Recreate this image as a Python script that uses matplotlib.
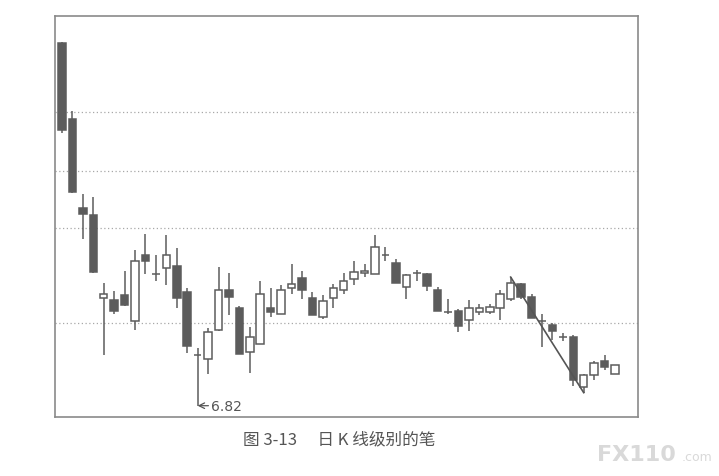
import matplotlib
matplotlib.use("Agg")
import matplotlib.pyplot as plt
import numpy as np

# Daily candles (price units, low of the move = 6.82)
opens = [10.99, 10.12, 9.09, 9.02, 8.06, 8.04, 8.09, 7.80, 8.55, 8.34,
         8.41, 8.43, 8.13, 7.40, 7.36, 7.69, 8.15, 7.94, 7.44, 7.53,
         7.95, 7.87, 8.18, 8.29, 8.06, 7.84, 8.06, 8.15, 8.28, 8.35,
         8.33, 8.55, 8.46, 8.19, 8.35, 8.33, 8.15, 7.90, 7.91, 7.81,
         7.90, 7.90, 7.95, 8.05, 8.22, 8.07, 7.79, 7.75, 7.61, 7.61,
         7.04, 7.17, 7.33, 7.18]
highs = [11.00, 10.21, 9.26, 9.22, 8.23, 8.14, 8.37, 8.61, 8.80, 8.55,
         8.79, 8.63, 8.18, 7.48, 7.71, 8.42, 8.35, 7.97, 7.73, 8.26,
         8.17, 8.21, 8.45, 8.37, 8.13, 8.09, 8.22, 8.35, 8.48, 8.45,
         8.79, 8.65, 8.51, 8.34, 8.38, 8.35, 8.19, 8.05, 7.93, 8.04,
         7.99, 7.99, 8.15, 8.30, 8.23, 8.11, 7.88, 7.77, 7.66, 7.63,
         7.19, 7.34, 7.40, 7.29]
lows = [9.96, 9.27, 8.74, 8.35, 7.40, 7.87, 7.97, 7.69, 8.33, 8.26,
        8.21, 7.94, 7.43, 6.82, 7.18, 7.68, 7.86, 7.41, 7.20, 7.53,
        7.84, 7.87, 8.11, 8.05, 7.86, 7.82, 7.95, 8.11, 8.21, 8.30,
        8.33, 8.48, 8.23, 8.05, 8.25, 8.14, 7.91, 7.88, 7.67, 7.68,
        7.86, 7.88, 7.81, 8.03, 8.05, 7.83, 7.50, 7.58, 7.57, 7.05,
        6.97, 7.11, 7.23, 7.18]
closes = [9.99, 9.28, 9.03, 8.36, 8.10, 7.91, 7.98, 8.48, 8.48, 8.34,
          8.55, 8.06, 7.51, 7.40, 7.67, 8.15, 8.07, 7.41, 7.61, 8.10,
          7.90, 8.15, 8.22, 8.15, 7.86, 8.02, 8.18, 8.26, 8.36, 8.37,
          8.65, 8.55, 8.23, 8.32, 8.35, 8.20, 7.91, 7.90, 7.74, 7.94,
          7.94, 7.96, 8.10, 8.23, 8.07, 7.83, 7.79, 7.68, 7.61, 7.12,
          7.17, 7.31, 7.26, 7.29]

grid_levels = [10.20, 9.52, 8.87, 7.77]
low_label = "6.82"
caption = "图 3-13　 日 K 线级别的笔"

# the "bi" stroke: from the top candle to the bottom candle
stroke_start = 43
stroke_end = 50


def plot_candles(ax):
    x = np.arange(len(opens))
    o = np.array(opens)
    c = np.array(closes)
    dark = "#5c5c5c"

    ax.vlines(x, lows, highs, color=dark, linewidth=1.1, zorder=2)

    down = c < o
    bottoms = np.minimum(o, c)
    heights = np.abs(c - o)
    faces = [dark if d else "white" for d in down]
    ax.bar(x, heights, bottom=bottoms, width=0.72, color=faces,
           edgecolor=dark, linewidth=1.1, zorder=3)


def main():
    fig = plt.figure(figsize=(7.19, 4.77), dpi=100)
    ax = fig.add_axes([0.0765, 0.1237, 0.8108, 0.8407])

    for level in grid_levels:
        ax.axhline(level, color="#a8a8a8", linewidth=0.9,
                   linestyle=(0, (1, 2)), zorder=1)

    plot_candles(ax)

    ax.plot([stroke_start, stroke_end],
            [highs[stroke_start], lows[stroke_end]],
            color="#555555", linewidth=1.2, zorder=4)

    i_low = int(np.argmin(lows))
    ax.annotate(low_label, xy=(i_low, lows[i_low]),
                xytext=(i_low + 1.3, lows[i_low]),
                va="center", ha="left", fontsize=10, color="#555555",
                arrowprops=dict(arrowstyle="->", color="#555555", lw=0.9,
                                shrinkA=0, shrinkB=0))

    ax.set_xlim(-0.67, 55.2)
    ax.set_ylim(6.69, 11.305)
    ax.set_xticks([])
    ax.set_yticks([])
    for spine in ax.spines.values():
        spine.set_color("#8a8a8a")
        spine.set_linewidth(1.2)

    fig.text(0.338, 0.077, caption, fontsize=12, color="#555555",
             family=["Noto Sans CJK SC", "DejaVu Sans"], va="center")

    # watermark in the corner
    fig.text(0.830, 0.046, "FX110", fontsize=16, fontweight="bold",
             color="#d9d9d9", va="center")
    fig.text(0.948, 0.040, ".com", fontsize=9, color="#d9d9d9", va="center")

    fig.savefig("out.png", dpi=100)
    plt.close(fig)


if __name__ == "__main__":
    main()
